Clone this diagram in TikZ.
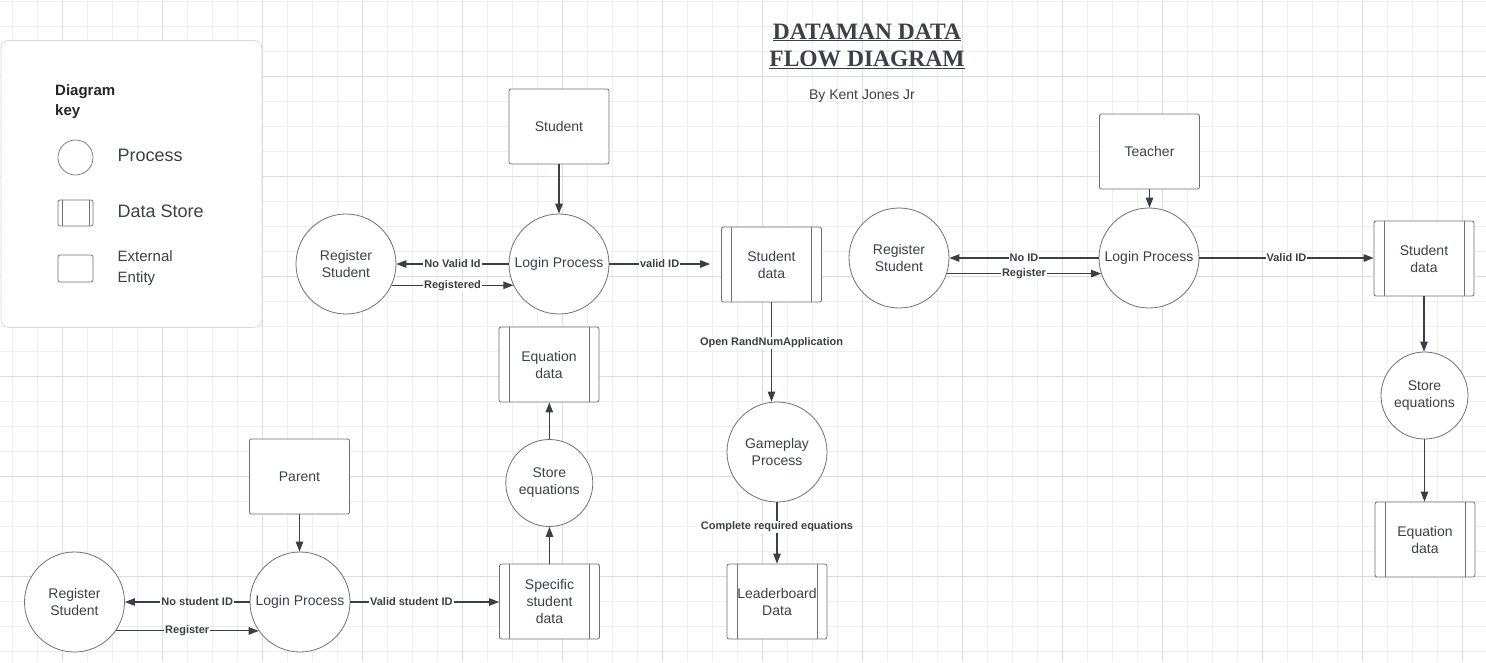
\documentclass[tikz,border=0pt]{standalone}
\usepackage{fontspec}
\setmainfont{Liberation Sans}
\newfontfamily\titlefont{Liberation Serif}
\usetikzlibrary{arrows.meta}
\definecolor{gridminor}{HTML}{EEEEEE}
\definecolor{gridmajor}{HTML}{DCDCDC}
\definecolor{shapeline}{HTML}{707070}
\definecolor{txt}{HTML}{3B4049}
\definecolor{arrowc}{HTML}{3A3F47}
\definecolor{keyline}{HTML}{DADADA}
\begin{document}
\begin{tikzpicture}[x=1pt,y=-1pt,
  nodetext/.style={font=\fontsize{14}{17}\selectfont, text=txt, align=center},
  proc/.style={circle, draw=shapeline, line width=0.8pt, fill=white, minimum size=100pt, inner sep=0pt, nodetext},
  sproc/.style={proc, minimum size=87pt},
  entity/.style={rectangle, rounded corners=2pt, draw=shapeline, line width=0.8pt, fill=white, minimum width=100pt, minimum height=75pt, inner sep=0pt, nodetext},
  dstore/.style={entity, path picture={
      \draw[shapeline, line width=0.8pt] ([xshift=#1]path picture bounding box.north west) -- ([xshift=#1]path picture bounding box.south west);
      \draw[shapeline, line width=0.8pt] ([xshift=-#1]path picture bounding box.north east) -- ([xshift=-#1]path picture bounding box.south east);}},
  dstore/.default=10pt,
  flow/.style={draw=arrowc, line width=1.05pt, -{Triangle[length=10pt,width=7.5pt]}},
  lbl/.style={font=\fontsize{11}{13}\selectfont\bfseries, text=arrowc, fill=white, inner sep=1pt},
  keytext/.style={anchor=west, inner sep=0pt, text=txt, align=left},
]
\useasboundingbox (0,0) rectangle (1486,662);
\fill[white] (0,0) rectangle (1486,662);
% grid
\foreach \gx in {12,37,...,1486} {\draw[gridminor, line width=0.8pt] (\gx,0) -- (\gx,662);}
\foreach \gy in {1,26,...,662} {\draw[gridminor, line width=0.8pt] (0,\gy) -- (1486,\gy);}
\foreach \gx in {62,162,...,1486} {\draw[gridmajor, line width=0.9pt] (\gx,0) -- (\gx,662);}
\foreach \gy in {76,176,...,662} {\draw[gridmajor, line width=0.9pt] (0,\gy) -- (1486,\gy);}

% key
\node[draw=keyline, fill=white, rounded corners=8pt, line width=0.8pt, minimum width=261pt, minimum height=287pt, anchor=north west, inner sep=0pt] (keybox) at (0.5,40) {};
\node[keytext, font=\fontsize{15}{20}\selectfont\bfseries, text=black!85] (keytitle) at (55,102) {Diagram\\key};
\node[circle, draw=shapeline, line width=0.7pt, minimum size=35pt, inner sep=0pt] (kproc) at (75.5,157.5) {};
\node[dstore=4pt, line width=0.7pt, minimum width=35pt, minimum height=26pt] (kstore) at (75.5,213) {};
\node[entity, line width=0.7pt, minimum width=35pt, minimum height=27pt] (kent) at (75.5,268.5) {};
\node[keytext, font=\fontsize{18}{21}\selectfont] (kproct) at (117.5,155.5) {Process};
\node[keytext, font=\fontsize{18}{21}\selectfont] (kstoret) at (117.5,211) {Data Store};
\node[keytext, font=\fontsize{15}{21}\selectfont] (kentt) at (117.5,268.5) {External\\Entity};

% title
\node[font=\titlefont\fontsize{23.5}{27}\selectfont\bfseries, text=txt, anchor=base] (title1) at (867,39) {\underline{DATAMAN DATA}};
\node[font=\titlefont\fontsize{23.5}{27}\selectfont\bfseries, text=txt, anchor=base] (title2) at (867,66) {\underline{FLOW DIAGRAM}};
\node[font=\fontsize{14}{17}\selectfont, text=txt, anchor=base] (byline) at (862,99) {By Kent Jones Jr};

% student flow
\node[entity] (student) at (559,126.5) {Student};
\node[proc] (login1) at (559,264) {Login Process};
\node[proc] (reg1) at (346,264) {Register\\Student};
\node[dstore] (sd1) at (771.5,264.5) {Student\\data};
\node[dstore] (eq1) at (549,364.5) {Equation\\data};
\node[sproc] (se1) at (549.3,483) {Store\\equations};
\node[dstore] (spec) at (549.5,601.5) {Specific\\student\\data};
\node[proc] (game) at (777,452) {Gameplay\\Process};
\node[dstore] (lead) at (777,601.5) {Leaderboard\\Data};

% teacher flow
\node[entity] (teacher) at (1149.5,151.5) {Teacher};
\node[proc] (login2) at (1149,258) {Login Process};
\node[proc] (reg2) at (899,258) {Register\\Student};
\node[dstore] (sd2) at (1424,258.5) {Student\\data};
\node[sproc] (se2) at (1424.5,395.5) {Store\\equations};
\node[dstore] (eq2) at (1425,539.5) {Equation\\data};

% parent flow
\node[entity] (parent) at (299.5,476.5) {Parent};
\node[proc] (login3) at (300,602) {Login Process};
\node[proc] (reg3) at (74.5,602) {Register\\Student};

% connectors: student
\draw[flow] (student.south) -- (login1.north);
\draw[flow] (login1.west) -- node[lbl]{No Valid Id} (reg1.east);
\draw[flow] (reg1.-25) -- node[lbl]{Registered} (login1.205);
\draw[flow, shorten >=11pt] (login1.east) -- node[lbl, pos=0.45]{valid ID} (login1.east -| sd1.west);
\draw[flow] (sd1.south) -- node[lbl, pos=0.41]{Open RandNumApplication} (sd1.south |- game.north);
\draw[flow] (game.south) -- node[lbl, pos=0.4]{Complete required equations} (lead.north);
\draw[flow] (se1.north) -- (se1.north |- eq1.south);
\draw[flow] (spec.north) -- (spec.north |- se1.south);

% connectors: teacher
\draw[flow] (teacher.south) -- (teacher.south |- login2.north);
\draw[flow] (login2.west) -- node[lbl]{No ID} (reg2.east);
\draw[flow] (reg2.-18.7) -- node[lbl]{Register} (login2.198.7);
\draw[flow] (login2.east) -- node[lbl]{Valid ID} (login2.east -| sd2.west);
\draw[flow] (sd2.south) -- (sd2.south |- se2.north);
\draw[flow] (se2.south) -- (se2.south |- eq2.north);

% connectors: parent
\draw[flow] (parent.south) -- (parent.south |- login3.north);
\draw[flow] (login3.west) -- node[lbl, pos=0.42]{No student ID} (reg3.east);
\draw[flow] (reg3.-35.4) -- node[lbl]{Register} (login3.215.4);
\draw[flow] (login3.east) -- node[lbl, pos=0.41]{Valid student ID} (login3.east -| spec.west);
\end{tikzpicture}
\end{document}
